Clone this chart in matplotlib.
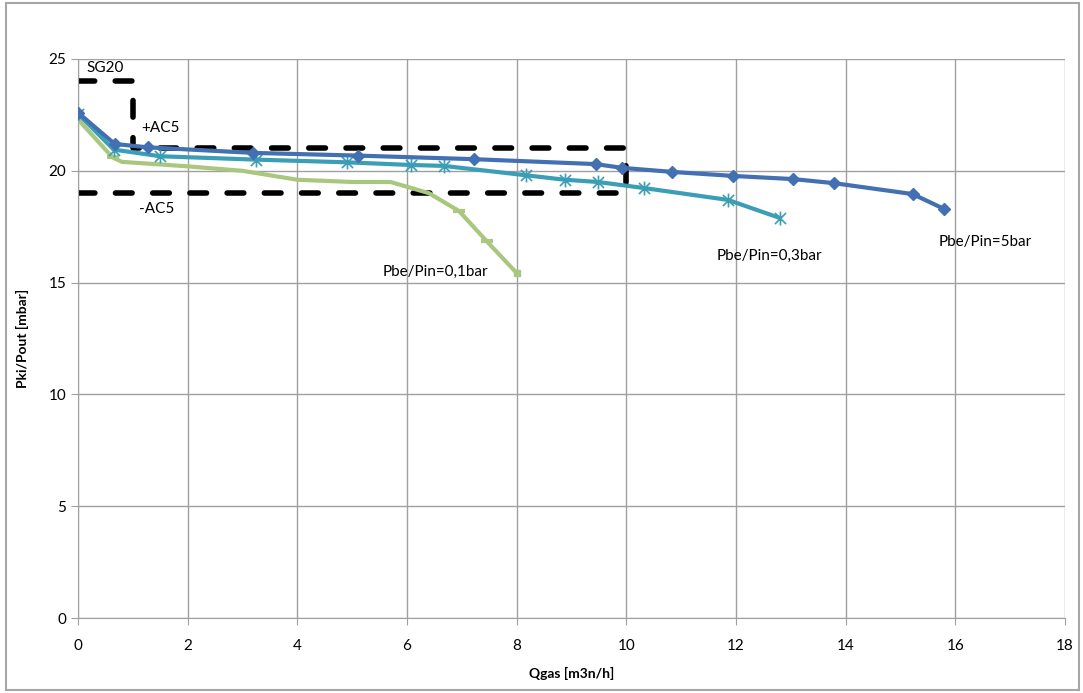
import matplotlib
matplotlib.use("Agg")
import matplotlib.pyplot as plt
from matplotlib.patches import Rectangle
from matplotlib.path import Path

plt.rcParams['font.family'] = ['Lato', 'DejaVu Sans']

# Data
x_5bar = [0, 0.67, 1.27, 3.2, 5.1, 7.22, 9.44, 9.93, 10.84, 11.95, 13.04, 13.78, 15.22, 15.8]
y_5bar = [22.6, 21.2, 21.05, 20.8, 20.68, 20.52, 20.3, 20.13, 19.95, 19.77, 19.63, 19.45, 18.96, 18.29]

x_03bar = [0, 0.65, 1.5, 3.25, 4.9, 6.07, 6.67, 8.17, 8.88, 9.48, 10.32, 11.85, 12.8]
y_03bar = [22.55, 20.95, 20.65, 20.5, 20.38, 20.26, 20.22, 19.8, 19.6, 19.5, 19.23, 18.7, 17.89]

x_01bar = [0, 0.63, 0.8, 2.0, 3.0, 4.0, 5.0, 5.7, 6.4, 6.95, 7.45, 8.0]
y_01bar = [22.3, 20.6, 20.4, 20.2, 20.0, 19.6, 19.5, 19.5, 19.0, 18.2, 16.86, 15.43]

limit_x = [0, 1, 1, 10, 10, 0]
limit_y = [24, 24, 21, 21, 19, 19]

x_ticks = [0, 2, 4, 6, 8, 10, 12, 14, 16, 18]
y_ticks = [0, 5, 10, 15, 20, 25]

# Excel-style star marker: X plus vertical bar
star = Path([(0, -1), (0, 1), (-0.8, -0.8), (0.8, 0.8), (-0.8, 0.8), (0.8, -0.8)],
            [Path.MOVETO, Path.LINETO, Path.MOVETO, Path.LINETO, Path.MOVETO, Path.LINETO])

fig = plt.figure(figsize=(10.83, 6.93), dpi=100)
ax = fig.add_axes([78/1083, 1-618/693, (1065-78)/1083, (618-59)/693])

# outer border
fig.patches.append(Rectangle((6/1083, 1-690/693), (1079-6)/1083, (690-3)/693,
                             transform=fig.transFigure, fill=False,
                             edgecolor='#A6A6A6', linewidth=1.5))

ax.plot(limit_x, limit_y, color='black', linewidth=4, linestyle=(0, (3, 3.7)),
        solid_capstyle='round', dash_capstyle='round', zorder=2)

ax.plot(x_01bar, y_01bar, color='#A9C77F', linewidth=3, marker='_', markersize=8,
        markeredgewidth=3, markevery=[1, 9, 10], zorder=3)
ax.plot([x_01bar[-1]], [y_01bar[-1]], color='#A9C77F', marker='s', markersize=5, zorder=3)
ax.plot(x_03bar, y_03bar, color='#3C9EB6', linewidth=3, marker=star, markersize=10,
        markeredgewidth=1.2, markerfacecolor='none', zorder=4)
ax.plot(x_5bar, y_5bar, color='#4270B2', linewidth=3, marker='D', markersize=6, zorder=5)

ax.set_xlim(0, 18)
ax.set_ylim(0, 25)
ax.set_xticks(x_ticks)
ax.set_yticks(y_ticks)
ax.grid(True, color='#A0A0A0', linewidth=1)
ax.set_axisbelow(True)
for s in ['top', 'right']:
    ax.spines[s].set_visible(False)
for s in ['left', 'bottom']:
    ax.spines[s].set_color('#A0A0A0')
ax.tick_params(axis='both', colors='#A0A0A0', labelcolor='black', labelsize=11, length=5, direction='out')
ax.tick_params(axis='x', pad=10)

ax.set_xlabel('Qgas [m3n/h]', fontsize=10, fontweight='bold', labelpad=10)
ax.set_ylabel('Pki/Pout [mbar]', fontsize=10, fontweight='bold', labelpad=14)

ax.text(0.15, 24.3, 'SG20', fontsize=11, va='bottom')
ax.text(1.15, 21.6, '+AC5', fontsize=11, va='bottom')
ax.text(1.12, 18.6, '-AC5', fontsize=11, va='top')
ax.text(5.55, 15.5, 'Pbe/Pin=0,1bar', fontsize=11, va='center')
ax.text(11.65, 16.2, 'Pbe/Pin=0,3bar', fontsize=11, va='center')
ax.text(15.7, 16.8, 'Pbe/Pin=5bar', fontsize=11, va='center')

fig.savefig('out.png', dpi=100)
